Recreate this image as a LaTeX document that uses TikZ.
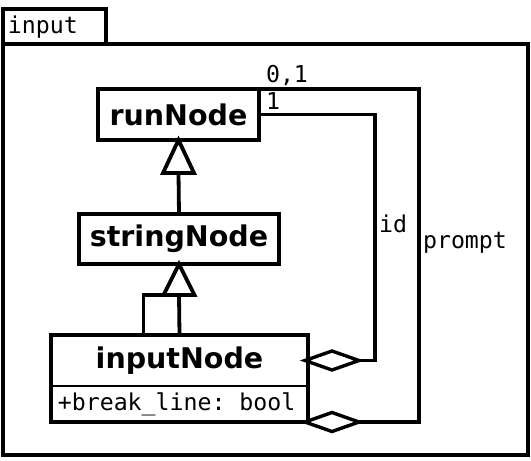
\documentclass[tikz,border=0pt]{standalone}
\usepackage{fontspec}
\setmainfont{DejaVu Sans}
\setmonofont{DejaVu Sans Mono}
\begin{document}
\begin{tikzpicture}[x=1pt,y=-1pt,line width=3.8pt,
  classbox/.style={draw,rectangle,inner sep=0pt,outer sep=0pt,
    font=\bfseries\fontsize{28.5}{32}\selectfont},
  mono/.style={font=\ttfamily\fontsize{23.2}{27}\selectfont,inner sep=0pt},
  aggr/.style={draw,fill=white,line width=3.4pt,line join=miter},
  gentri/.style={draw,fill=white,line join=miter}]
\useasboundingbox (0,0) rectangle (531,461);
% package frame
\node[draw,rectangle,inner sep=0pt,outer sep=0pt,minimum width=103pt,minimum height=35pt,anchor=north west] (tab) at (3,9) {};
\node[mono,anchor=west] (tablabel) at (6,27) {input};
\node[draw,rectangle,inner sep=0pt,outer sep=0pt,minimum width=525pt,minimum height=411pt,anchor=north west] (frame) at (3,44) {};
% classes
\node[classbox,minimum width=161pt,minimum height=51pt] (runNode) at (178.5,114.5) {runNode};
\node[classbox,minimum width=200pt,minimum height=50pt] (stringNode) at (179,239) {stringNode};
\node[classbox,draw=none,minimum width=257pt,minimum height=51pt] (inputNode) at (179.5,360.5) {inputNode};
\node[rectangle,inner sep=0pt,outer sep=0pt,minimum width=257pt,minimum height=36pt,anchor=north] (inputAttr) at (inputNode.south) {};
\draw (inputNode.north west) rectangle (inputAttr.south east);
\draw[line width=2.2pt] (inputNode.south west) -- (inputNode.south east);
\node[mono,anchor=west] (attr) at ([xshift=5pt]inputAttr.west) {+break\_line: bool};
% generalization stringNode -> runNode
\coordinate (t1base) at ([yshift=-33pt]runNode.south);
\draw (stringNode.north) -- (t1base);
\draw[gentri] (runNode.south) -- ([xshift=-15.5pt]t1base) -- ([xshift=15.5pt]t1base) -- cycle;
% generalization inputNode -> stringNode
\coordinate (t2base) at ([yshift=-31pt]stringNode.south);
\coordinate (sqa) at ([xshift=-36pt]inputNode.north);
\coordinate (sqb) at (sqa |- t2base);
\draw (sqa) -- (sqb) -- (t2base);
\draw (inputNode.north) -- (t2base);
\draw[gentri] (stringNode.south) -- ([xshift=-15.5pt]t2base) -- ([xshift=15.5pt]t2base) -- cycle;
% aggregation id
\coordinate (idtip) at ([xshift=-3pt]inputNode.east);
\coordinate (idend) at ([xshift=54pt]idtip);
\coordinate (idc) at (375,360.5);
\draw (runNode.east) -| (idc) -- (idend);
\draw[aggr] (idtip) -- ++(27,-9.5) -- (idend) -- ++(-27,9.5) -- cycle;
% aggregation prompt
\coordinate (prtip) at ([xshift=-3pt]inputAttr.south east);
\coordinate (prend) at ([xshift=54pt]prtip);
\coordinate (prc) at (419,422);
\draw (runNode.north east) -| (prc) -- (prend);
\draw[aggr] (prtip) -- ++(27,-9.5) -- (prend) -- ++(-27,9.5) -- cycle;
% labels
\node[mono] (l01) at (287,76) {0,1};
\node[mono] (l1) at (273,101) {1};
\node[mono] (lid) at (393,224) {id};
\node[mono] (lprompt) at (465,243) {prompt};
\end{tikzpicture}
\end{document}
